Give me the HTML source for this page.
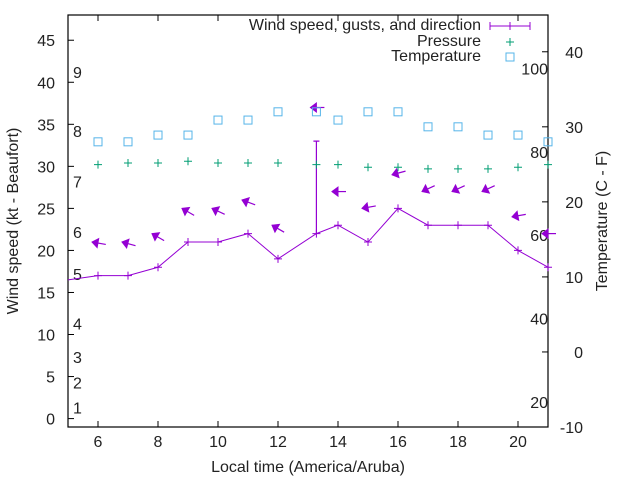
<!DOCTYPE html>
<html><head><meta charset="utf-8"><style>
body{margin:0;background:#fff}
svg text{font-family:"Liberation Sans",sans-serif;font-size:16px;fill:#222}
</style></head><body>
<svg id="chart" width="640" height="480" xmlns="http://www.w3.org/2000/svg">
<g id="g"></g>
</svg>
<script>
const hours = [6,7,8,9,10,11,12,13.28,14,15,16,17,18,19,20,21];
const windKt = [17,17,18,21,21,22,19,22,23,21,25,23,23,23,20,18];
const gustKt = [null,null,null,null,null,null,null,33,null,null,null,null,null,null,null,null];
const windDirDeg = [170,165,150,150,155,160,150,180,180,190,195,205,205,205,190,180];
const pressure = [30.2,30.4,30.4,30.6,30.4,30.4,30.4,30.2,30.2,29.9,29.9,29.7,29.7,29.7,29.9,30.2];
const tempC = [28,28,28.9,28.9,30.9,30.9,32,32,30.9,32,32,30,30,28.9,28.9,28];
const xTicks = [6,8,10,12,14,16,18,20];
const yTicks = [0,5,10,15,20,25,30,35,40,45];
const y2Ticks = [-10,0,10,20,30,40];
const fTicks = [20,40,60,80,100];
const bftLevels = [1,2,3,4,5,6,7,8,9];
const bftKt = [1.3,4.3,7.3,11.3,17.2,22.2,28.2,34.2,41.2];

const L=68,R=548,T=15,B=427;
const X=v=>L+(v-5)/(21-5)*(R-L);
const Y=v=>B-(v+1)/(48+1)*(B-T);
const Y2=c=>B-(c+10)/(44.9+10)*(B-T);
const F2=f=>Y2((f-32)*5/9);
const g=document.getElementById('g');
const NS='http://www.w3.org/2000/svg';
function mk(tag,attrs,txt){const e=document.createElementNS(NS,tag);for(const k in attrs)e.setAttribute(k,attrs[k]);if(txt!==undefined)e.textContent=txt;g.appendChild(e);return e;}

let e;
e=mk('rect',{x:L,y:T,width:R-L,height:B-T,fill:'none',stroke:'#000','stroke-width':1.2});



xTicks.forEach(t=>{
  e=mk('line',{x1:X(t),x2:X(t),y1:B,y2:B-6,stroke:'#000'});
  
  
  e=mk('line',{x1:X(t),x2:X(t),y1:T,y2:T+6,stroke:'#000'});
  
  
  e=mk('text',{x:X(t),y:B+20,'text-anchor':'middle'},t);
  
  
});
yTicks.forEach(t=>{
  e=mk('line',{x1:L,x2:L+6,y1:Y(t),y2:Y(t),stroke:'#000'});
  
  
  e=mk('text',{x:L-13,y:Y(t)+6,'text-anchor':'end'},t);
  
  
});
y2Ticks.forEach(t=>{
  e=mk('line',{x1:R,x2:R-6,y1:Y2(t),y2:Y2(t),stroke:'#000'});
  
  
  e=mk('text',{x:R+35,y:Y2(t)+6,'text-anchor':'end'},t);
  
  
});
fTicks.forEach(t=>{
  e=mk('text',{x:R,y:F2(t)+6,'text-anchor':'end'},t);
  
  
});
bftLevels.forEach((b,i)=>{
  e=mk('text',{x:L+5,y:Y(bftKt[i])+6},b);
  
  
});

e=mk('text',{x:0,y:0,'text-anchor':'middle',transform:`translate(18,${(T+B)/2}) rotate(-90)`},'Wind speed (kt - Beaufort)');


e=mk('text',{x:0,y:0,'text-anchor':'middle',transform:`translate(607,${(T+B)/2}) rotate(-90)`},'Temperature (C - F)');


e=mk('text',{x:(L+R)/2,y:472,'text-anchor':'middle'},'Local time (America/Aruba)');



const purple='#9400d3',green='#009e73',blue='#56b4e9';
let pts=[[L,Y(16.5)]].concat(hours.map((h,i)=>[X(h),Y(windKt[i])]));
e=mk('polyline',{points:pts.map(p=>p.join(',')).join(' '),fill:'none',stroke:purple,'stroke-width':1});


hours.forEach((h,i)=>{
  const x=X(h),y=Y(windKt[i]);
  e=mk('path',{d:`M${x-4},${y}h8M${x},${y-4}v8`,stroke:purple,'stroke-width':1});
  
  
  if(gustKt[i]!=null){
    e=mk('path',{d:`M${x},${y}V${Y(gustKt[i])}M${x-3},${Y(gustKt[i])}h6`,stroke:purple,'stroke-width':1.2});
    
    
  }
  const top=Math.max(windKt[i],gustKt[i]||0)+4;
  const ax=X(h)-6,ay=Y(top),a=windDirDeg[i]*Math.PI/180;
  const dx=Math.cos(a),dy=-Math.sin(a);
  const tx=ax-dx*14,ty=ay-dy*14;
  const px=-dy,py=dx;
  e=mk('line',{x1:tx,y1:ty,x2:ax,y2:ay,stroke:purple,'stroke-width':1.2});
  
  
  const bx=ax-dx*6,by=ay-dy*6;
  e=mk('polygon',{points:`${ax},${ay} ${bx+px*4.5},${by+py*4.5} ${bx-px*4.5},${by-py*4.5}`,fill:purple,stroke:purple,'stroke-width':1});
  
  
});
hours.forEach((h,i)=>{
  const x=X(h),y=Y(pressure[i]);
  e=mk('path',{d:`M${x-4},${y}h8M${x},${y-4}v8`,stroke:green,'stroke-width':1});
  
  
  const ty=Y2(tempC[i]);
  e=mk('rect',{x:x-4,y:ty-4,width:8,height:8,fill:'none',stroke:blue,'stroke-width':1});
  
  
});
const lg=[['Wind speed, gusts, and direction',25],['Pressure',41],['Temperature',56]];
lg.forEach(([t,y],i)=>{
  e=mk('text',{x:481,y:y+5,'text-anchor':'end'},t);
  
  
});
e=mk('path',{d:'M490,26H530M490,22v8M530,22v8M510,22v8',stroke:purple,'stroke-width':1});


e=mk('path',{d:'M506,42h8M510,38v8',stroke:green,'stroke-width':1});


e=mk('rect',{x:506,y:53,width:8,height:8,fill:'none',stroke:blue});


</script>
</body></html>
